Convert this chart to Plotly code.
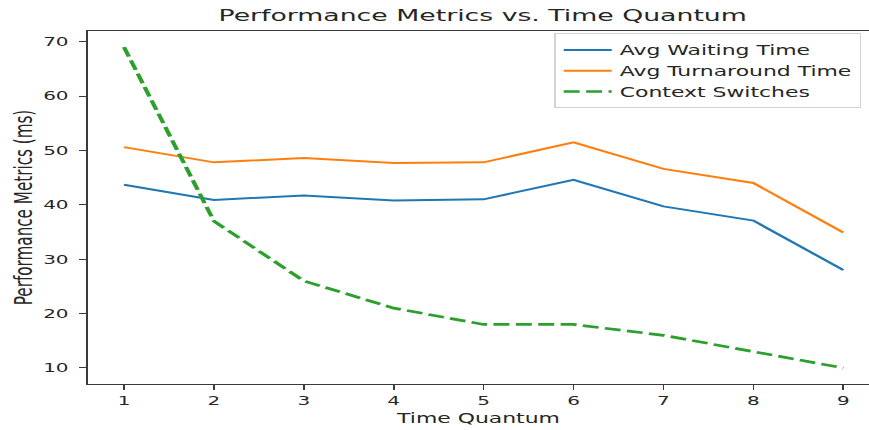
import plotly.graph_objects as go

quantum = [1, 2, 3, 4, 5, 6, 7, 8, 9]
avg_waiting = [43.7, 40.9, 41.7, 40.8, 41.0, 44.6, 39.7, 37.1, 28.0]
avg_turnaround = [50.6, 47.8, 48.6, 47.7, 47.8, 51.5, 46.6, 44.0, 34.9]
context_switches = [69, 37, 26, 21, 18, 18, 16, 13, 10]
y_ticks = [10, 20, 30, 40, 50, 60, 70]

# The reference picture is stretched horizontally; the figure is drawn
# narrower and then widened by this factor in the page.
STRETCH = 869 / 543
W, H = 543, 430

fig = go.Figure()
fig.add_trace(go.Scatter(x=quantum, y=avg_waiting, mode="lines", name="Avg Waiting Time",
                         legendgroup="a", line=dict(color="#1f77b4", width=2)))
fig.add_trace(go.Scatter(x=quantum, y=avg_turnaround, mode="lines", name="Avg Turnaround Time",
                         legendgroup="b", line=dict(color="#ff7f0e", width=2)))
fig.add_trace(go.Scatter(x=quantum, y=context_switches, mode="lines", name="Context Switches",
                         legendgroup="c", line=dict(color="#2ca02c", width=2.7, dash="10px,4px")))

font_main = "DejaVu Sans, Verdana, sans-serif"
txt = "#262626"

fig.update_layout(
    width=W, height=H,
    margin=dict(l=55, r=0, t=31, b=46, autoexpand=False),
    paper_bgcolor="white", plot_bgcolor="white",
    title=dict(text="Performance Metrics vs. Time Quantum", x=301.6 / W, xanchor="center",
               y=1 - 15.5 / H, yanchor="middle", font=dict(family=font_main, size=16.7, color=txt)),
    showlegend=True,
    legend=dict(x=0.5968, y=0.993, xanchor="left", yanchor="top",
                bgcolor="rgba(255,255,255,0.9)", bordercolor="#d3d3d3", borderwidth=1,
                font=dict(family=font_main, size=13.7, color=txt),
                tracegroupgap=0),
    xaxis=dict(range=[0.6, 9.286], tickmode="array", tickvals=quantum,
               ticktext=[str(q) for q in quantum],
               showgrid=False, zeroline=False, showline=True, linecolor="#3a3a3a", linewidth=1.3,
               mirror=True, ticks="outside", ticklen=5, tickwidth=1.2, tickcolor="#3a3a3a",
               tickfont=dict(family=font_main, size=12.5, color=txt),
               automargin=True,
               title=dict(text="Time Quantum", font=dict(family=font_main, size=13.7, color=txt),
                          standoff=6)),
    yaxis=dict(range=[7.05, 71.95], tickmode="array", tickvals=y_ticks,
               showgrid=False, zeroline=False, showline=True, linecolor="#3a3a3a", linewidth=1.3,
               ticks="outside", ticklen=4.5, tickwidth=1.2, tickcolor="#3a3a3a",
               ticklabelstandoff=4,
               tickfont=dict(family=font_main, size=12.5, color=txt),
               automargin=True,
               title=dict(text="Performance Metrics (ms)",
                          font=dict(family=font_main, size=15.2, color=txt),
                          standoff=2)),
)

post = """
document.documentElement.style.margin='0';
document.body.style.margin='0';
document.body.style.overflow='hidden';
var gd = document.getElementById('{plot_id}');
gd.style.transformOrigin = '0 0';
gd.style.transform = 'scaleX(%f)';
""" % STRETCH

fig.write_html("out.html", post_script=post, config={"displayModeBar": False})
